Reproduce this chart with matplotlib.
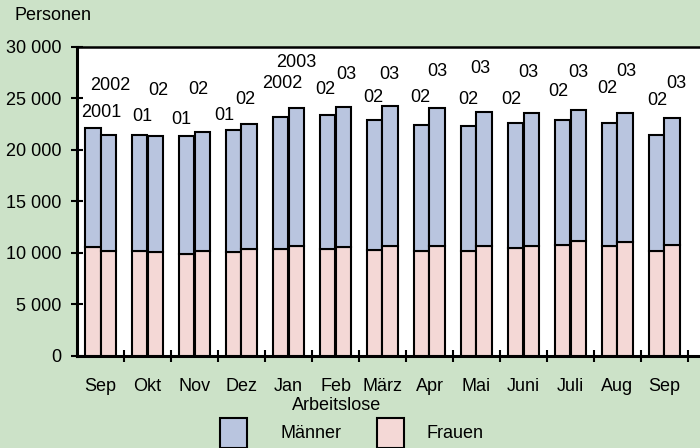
# Arbeitslose nach Geschlecht, Sep 2001/2002 bis Sep 2002/2003

import numpy as np
import matplotlib.pyplot as plt
from matplotlib.patches import Rectangle

plt.rcParams['font.family'] = ['Liberation Sans', 'DejaVu Sans']

# data (persons)
months = ['Sep', 'Okt', 'Nov', 'Dez', 'Jan', 'Feb', 'März', 'Apr', 'Mai', 'Juni', 'Juli', 'Aug', 'Sep']
total_prev = [22150, 21500, 21350, 21950, 23200, 23400, 22900, 22400, 22300, 22600, 22900, 22600, 21500]
total_curr = [21500, 21350, 21700, 22500, 24100, 24200, 24250, 24050, 23700, 23550, 23900, 23600, 23100]
frauen_prev = [10550, 10200, 9950, 10100, 10400, 10400, 10300, 10150, 10150, 10500, 10800, 10700, 10150]
frauen_curr = [10150, 10100, 10200, 10350, 10700, 10600, 10650, 10700, 10700, 10700, 11150, 11100, 10800]
labels_prev = ['2001', '01', '01', '01', '2002', '02', '02', '02', '02', '02', '02', '02', '02']
labels_curr = ['2002', '02', '02', '02', '2003', '03', '03', '03', '03', '03', '03', '03', '03']

maenner_prev = np.array(total_prev) - np.array(frauen_prev)
maenner_curr = np.array(total_curr) - np.array(frauen_curr)

# label offsets above bar tops (pixels), as placed in the original
dx_prev = [8, 2, -6, -10, 1, -3, -2, -2, -1, -5, -5, -3, 0]
dy_prev = [15, 18, 17, 14, 34, 25, 23, 28, 27, 24, 29, 35, 34]
dx_curr = [2, 3, -4, -4, 0, 3, -1, 0, -4, -3, 0, 1, 4]
dy_curr = [49, 46, 43, 25, 45, 32, 32, 37, 43, 41, 37, 41, 35]

green = '#cce2c8'
blue = '#b9c5df'
pink = '#f4d8d6'
fs = 13

fig = plt.figure(figsize=(7, 4.48), dpi=100)
fig.patch.set_facecolor(green)
ax = fig.add_axes([0.11, 0.2054, 0.89, 0.6897])
ax.set_facecolor('white')

x = np.arange(len(months))
w = 0.32
for off, fr, ma in [(-w / 2, frauen_prev, maenner_prev), (w / 2, frauen_curr, maenner_curr)]:
    ax.bar(x + off, fr, w, color=pink, edgecolor='black', linewidth=1.5, zorder=3)
    ax.bar(x + off, ma, w, bottom=fr, color=blue, edgecolor='black', linewidth=1.5, zorder=3)

for i in range(len(months)):
    ax.annotate(labels_prev[i], (x[i] - w / 2, total_prev[i]), xytext=(dx_prev[i], dy_prev[i]),
                textcoords='offset pixels', ha='center', va='center', fontsize=fs)
    ax.annotate(labels_curr[i], (x[i] + w / 2, total_curr[i]), xytext=(dx_curr[i], dy_curr[i]),
                textcoords='offset pixels', ha='center', va='center', fontsize=fs)

ax.set_xlim(-0.5, -0.5 + 623 / 47)
ax.set_ylim(0, 30000)
ax.set_yticks(range(0, 30001, 5000))
ax.set_yticklabels(['{:,}'.format(v).replace(',', ' ') for v in range(0, 30001, 5000)])
ax.set_xticks(x)
ax.set_xticklabels(months)
ax.set_xticks(list(x + 0.5), minor=True)
ax.tick_params(axis='x', which='major', length=0, pad=16, labelsize=fs)
ax.tick_params(axis='x', which='minor', direction='inout', length=9, width=1.5)
ax.tick_params(axis='y', direction='inout', length=9, width=1.5, pad=7, labelsize=fs)

ax.spines['right'].set_visible(False)
for s in ['left', 'bottom']:
    ax.spines[s].set_linewidth(2.2)
ax.spines['top'].set_linewidth(1.8)

fig.text(15 / 700, 1 - 16 / 448, 'Personen', fontsize=fs, va='center')
fig.text(337 / 700, 1 - 405 / 448, 'Arbeitslose', fontsize=fs, ha='center', va='center')

# legend
for x0, col, name, tx in [(220, blue, 'Männer', 281), (377, pink, 'Frauen', 426)]:
    fig.patches.append(Rectangle((x0 / 700, 0), 27 / 700, 30 / 448, transform=fig.transFigure,
                                 facecolor=col, edgecolor='black', linewidth=1.5))
    fig.text(tx / 700, 1 - 433 / 448, name, fontsize=fs, va='center')

plt.savefig('out.png', dpi=100, facecolor=green)
